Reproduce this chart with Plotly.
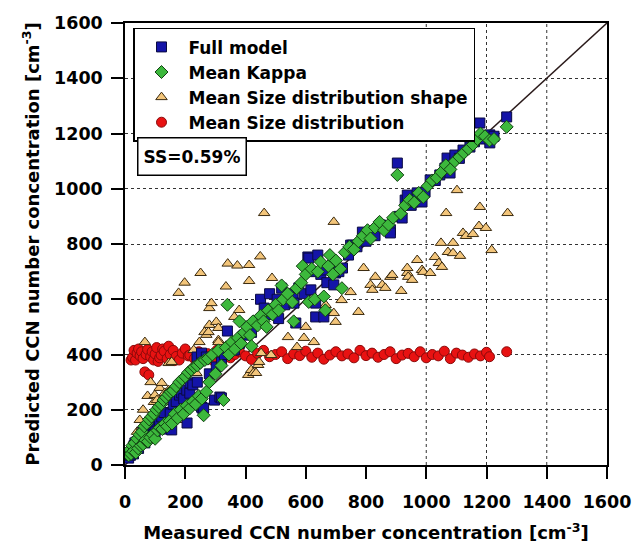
import plotly.graph_objects as go

# ---------------- data ----------------
full_x = [12,18,22,28,30,33,40,45,48,56,60,66,70,75,85,89,95,100,105,115,122,130,140,150,155,160,170,181,188,195,205,206,215,216,225,239,240,254,254,254,256,261,270,280,297,303,315,320,320,330,340,350,363,380,395,409,420,440,450,462,475,480,491,505,510,520,530,545,558,561,567,577,595,607,610,617,625,633,633,640,650,660,660,670,693,693,693,699,710,722,742,749,755,770,788,800,815,830,848,858,871,881,881,904,910,920,930,937,950,957,970,986,996,1013,1030,1045,1062,1069,1079,1095,1110,1122,1145,1160,1178,1190,1211,1211,1225,1267]
full_y = [25,35,50,40,70,80,85,60,95,98,120,80,115,140,130,163,110,120,170,160,174,190,130,185,127,220,230,253,261,240,271,152,260,297,290,391,300,210,398,405,206,206,391,330,235,355,246,243,373,400,485,430,416,440,470,500,480,520,600,568,545,620,561,600,530,640,580,620,605,586,514,641,620,753,749,634,700,586,536,760,690,706,536,660,724,731,652,695,700,713,760,796,796,790,843,810,840,830,869,862,858,851,840,1093,900,894,959,977,940,952,985,952,988,1032,1030,1050,1075,1111,1057,1122,1110,1140,1151,1170,1238,1180,1195,1166,1190,1260]

kappa_x = [12,16,20,24,28,32,36,40,44,48,52,56,60,64,68,72,76,80,84,88,92,96,100,104,108,112,116,120,124,128,132,136,140,144,148,152,156,160,165,170,175,180,185,190,195,200,205,210,215,220,225,230,235,240,245,250,255,261,265,270,275,280,290,300,310,320,327,335,340,345,355,365,375,380,385,395,405,415,420,425,440,450,460,470,475,490,500,510,520,525,540,555,560,570,585,590,600,610,620,630,640,650,660,665,675,680,690,700,715,720,730,745,760,775,790,805,815,830,845,860,875,890,904,915,930,945,960,975,990,1005,1020,1035,1050,1065,1080,1095,1110,1125,1140,1155,1170,1180,1195,1210,1225,1267]
kappa_y = [35,55,40,70,50,80,45,95,60,110,70,120,75,140,90,150,85,165,100,175,110,185,95,200,125,210,135,220,130,235,150,245,140,255,160,265,150,270,185,285,170,300,200,310,185,320,215,335,205,345,230,355,220,360,250,370,240,180,380,265,385,300,400,330,415,360,235,425,580,400,445,420,460,520,440,480,500,470,430,520,505,540,520,500,560,545,580,560,650,600,620,590,520,640,660,720,690,590,710,600,700,735,610,560,720,760,690,740,710,640,770,790,780,810,830,850,820,860,880,850,870,895,1050,910,940,960,950,985,970,1010,1030,1040,1060,1085,1070,1100,1115,1130,1145,1160,1180,1200,1190,1175,1180,1224]

shape_x = [20,30,40,49,56,60,66,75,85,96,99,106,115,122,132,132,145,145,155,178,195,198,228,231,237,247,251,264,270,277,280,280,287,303,310,310,310,335,341,363,373,379,409,412,412,419,426,435,442,445,449,452,462,485,488,541,571,594,600,627,666,693,693,699,719,749,775,792,815,821,831,854,864,881,887,917,937,937,940,953,970,986,990,1013,1029,1042,1049,1052,1066,1072,1089,1089,1102,1112,1122,1132,1155,1175,1178,1198,1217,1270]
shape_y = [60,90,120,163,138,200,445,250,300,228,253,235,279,297,261,228,271,369,373,623,163,660,416,337,333,445,695,481,471,481,507,568,586,518,496,452,445,646,729,536,722,561,326,666,724,344,333,333,362,373,755,405,912,398,677,463,427,460,500,445,579,550,880,518,597,626,554,713,652,634,681,652,641,681,688,630,695,713,681,670,742,706,699,695,753,731,804,717,912,771,767,804,995,757,840,829,836,865,934,858,778,912]

size_x = [20,25,30,35,40,45,50,55,60,66,70,75,79,85,90,95,100,105,110,115,120,125,130,140,145,150,160,165,170,180,190,200,210,215,230,245,260,275,290,305,320,335,350,365,380,400,420,440,460,480,500,520,540,560,580,600,620,640,660,680,700,720,740,760,780,800,820,840,860,880,900,920,940,960,980,1000,1020,1040,1060,1080,1100,1120,1140,1160,1180,1200,1210,1267]
size_y = [380,390,415,380,405,420,395,410,385,337,400,418,326,392,410,380,402,425,375,388,398,420,412,385,430,400,415,378,393,380,405,420,395,398,385,410,392,403,380,415,395,405,388,400,410,395,382,404,415,392,400,410,385,402,396,412,390,405,383,398,410,395,402,388,415,396,405,390,400,410,385,398,404,392,410,388,400,395,412,385,405,398,390,402,395,408,392,410]

one_to_one = [0, 1600]
tick_vals = [0, 200, 400, 600, 800, 1000, 1200, 1400, 1600]
xgrid_vals = [1000, 1200, 1400]
ss_label = "SS=0.59%"

# ---------------- figure ----------------
FONT = "DejaVu Sans"
fig = go.Figure()
fig.add_trace(go.Scatter(x=one_to_one, y=one_to_one, mode="lines",
                         line=dict(color="#2a1a1a", width=1.5), showlegend=False, hoverinfo="skip"))
fig.add_trace(go.Scatter(x=size_x, y=size_y, mode="markers", name="Mean Size distribution",
                         legendrank=4, legendgroup="d",
                         marker=dict(symbol="circle", size=10, color="#e81212",
                                     line=dict(color="#8a0a0a", width=1))))
fig.add_trace(go.Scatter(x=shape_x, y=shape_y, mode="markers", name="Mean Size distribution shape",
                         legendrank=3, legendgroup="c",
                         marker=dict(symbol="triangle-up", size=10, color="#f3c57a",
                                     line=dict(color="#3a2a10", width=1))))
fig.add_trace(go.Scatter(x=full_x, y=full_y, mode="markers", name="Full model",
                         legendrank=1, legendgroup="a",
                         marker=dict(symbol="square", size=10, color="#1414a8",
                                     line=dict(color="#0a0a40", width=1))))
fig.add_trace(go.Scatter(x=kappa_x, y=kappa_y, mode="markers", name="Mean Kappa",
                         legendrank=2, legendgroup="b",
                         marker=dict(symbol="diamond", size=10, color="#3cb83c",
                                     line=dict(color="#124012", width=1))))

for gv in xgrid_vals:
    fig.add_shape(type="line", xref="x", yref="paper", x0=gv, x1=gv, y0=0, y1=1,
                  line=dict(color="#333333", width=1, dash="dot"), layer="below")

fig.update_layout(
    width=635, height=545,
    margin=dict(l=125, r=28, t=23, b=80, autoexpand=False),
    plot_bgcolor="white", paper_bgcolor="white",
    font=dict(family=FONT, color="black"),
    legend=dict(x=0.0166, y=0.989, xanchor="left", yanchor="top",
                bgcolor="white", bordercolor="black", borderwidth=1.5,
                font=dict(size=17, family=FONT, weight="bold"),
                itemwidth=44, traceorder="normal", tracegroupgap=3),
    annotations=[dict(text="<b>" + ss_label + "</b>", xref="paper", yref="paper",
                      x=0.025, y=0.741, xanchor="left", yanchor="top", showarrow=False,
                      font=dict(size=17, family=FONT), bgcolor="white", height=26,
                      bordercolor="black", borderwidth=1.5, borderpad=5)],
)
fig.update_xaxes(range=[0, 1600], tickvals=tick_vals, ticks="outside", ticklen=12, tickwidth=1.5,
                 tickcolor="black", showline=True, linecolor="black", linewidth=1.5, mirror=True,
                 showgrid=False, zeroline=False, automargin=False, ticklabelstandoff=8,
                 tickfont=dict(size=17.5, family=FONT, weight="bold"),
                 title=dict(text="<b>Measured CCN number concentration [cm<sup>-3</sup>]</b>",
                            font=dict(size=18, family=FONT), standoff=16))
fig.update_yaxes(range=[0, 1600], tickvals=tick_vals, ticks="outside", ticklen=12, tickwidth=1.5,
                 tickcolor="black", showline=True, linecolor="black", linewidth=1.5, mirror=True,
                 showgrid=True, gridcolor="#333333", griddash="dot", gridwidth=1, zeroline=False,
                 automargin=False, ticklabelstandoff=5,
                 tickfont=dict(size=17.5, family=FONT, weight="bold"),
                 title=dict(text="<b>Predicted CCN number concentration [cm<sup>-3</sup>]</b>",
                            font=dict(size=18, family=FONT), standoff=10))

fig.write_html("out.html", config={"displayModeBar": False},
               post_script="document.body.style.margin='0px';")
